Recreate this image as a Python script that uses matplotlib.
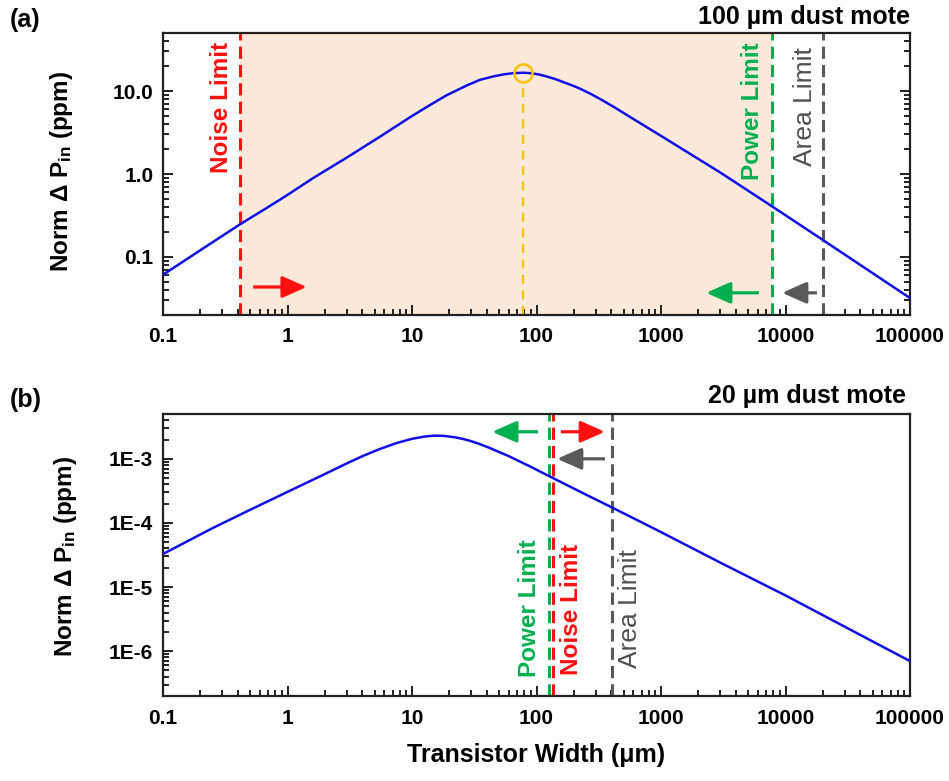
import matplotlib
matplotlib.use("Agg")
import matplotlib.pyplot as plt
from matplotlib.ticker import LogLocator, FixedLocator, FixedFormatter, NullFormatter

plt.rcParams['font.family'] = ['Liberation Sans', 'DejaVu Sans']
plt.rcParams['font.weight'] = 'bold'
plt.rcParams['mathtext.fontset'] = 'custom'
plt.rcParams['mathtext.rm'] = 'Liberation Sans:bold'
plt.rcParams['mathtext.default'] = 'rm'

# ---------------- data ----------------
# panel (a): 100 um dust mote
width_a = [0.1, 0.2, 0.42, 0.7, 1, 1.6, 3, 5.5, 10, 14, 19, 28, 35, 45, 55, 65, 78,
           90, 105, 120, 140, 160, 190, 220, 270, 330, 420, 560, 750, 1000, 1420,
           3000, 7750, 20000, 50000, 100000]
dp_a = [0.061, 0.121, 0.25, 0.40, 0.56, 0.89, 1.58, 2.8, 5.0, 6.8, 8.9, 11.8, 13.6,
        15.0, 15.9, 16.4, 16.6, 16.4, 15.8, 15.0, 14.0, 13.0, 11.8, 10.8, 9.3, 7.9,
        6.4, 4.9, 3.75, 2.88, 2.08, 1.04, 0.41, 0.16, 0.064, 0.032]
noise_a, power_a, area_a = 0.415, 7750, 20100
opt_a = (78, 16.6)

# panel (b): 20 um dust mote
width_b = [0.1, 0.25, 0.5, 1, 2, 3, 4, 5.5, 7.5, 10, 12.5, 15, 18, 22, 26, 30, 35,
           42, 48, 60, 70, 90, 128, 250, 400, 1000, 3000, 10000, 30000, 100000]
dp_b = [3.28e-5, 8.3e-5, 1.6e-4, 3.05e-4, 5.8e-4, 8.5e-4, 1.10e-3, 1.42e-3, 1.76e-3,
        2.05e-3, 2.22e-3, 2.30e-3, 2.28e-3, 2.17e-3, 2.03e-3, 1.88e-3, 1.70e-3,
        1.48e-3, 1.32e-3, 1.10e-3, 9.5e-4, 7.5e-4, 5.3e-4, 2.76e-4, 1.76e-4, 7.2e-5,
        2.4e-5, 7.4e-6, 2.4e-6, 7.0e-7]
power_b, noise_b, area_b = 126, 135, 402

xticks = [0.1, 1, 10, 100, 1000, 10000, 100000]
xticklabels = ['0.1', '1', '10', '100', '1000', '10000', '100000']
yticks_a = [0.1, 1.0, 10.0]
yticklabels_a = ['0.1', '1.0', '10.0']
yticks_b = [1e-6, 1e-5, 1e-4, 1e-3]
yticklabels_b = ['1E-6', '1E-5', '1E-4', '1E-3']

# arrows: (x_start, x_end, y, colour)
arrows_a = [(0.53, 1.43, 0.0435, 'red'), (6120, 2300, 0.037, 'green'), (17900, 9370, 0.037, 'gray')]
arrows_b = [(103, 44, 2.64e-3, 'green'), (157, 355, 2.64e-3, 'red'), (355, 146, 1.0e-3, 'gray')]

RED = '#FF1010'
GREEN = '#00B050'
GRAY = '#595959'
BLUE = '#1010E6'
ORANGE = '#FFC000'
PEACH = '#FCE9DA'
colmap = {'red': RED, 'green': GREEN, 'gray': GRAY}

fig = plt.figure(figsize=(9.49, 7.81), dpi=100)
ax1 = fig.add_axes([163/949, 1-315/781, 747/949, 282/781])
ax2 = fig.add_axes([163/949, 1-696/781, 747/949, 282/781])

dash = (0, (4, 2))

def style(ax, yt, ytl, right):
    ax.set_xscale('log')
    ax.set_yscale('log')
    ax.set_xlim(0.1, 100000)
    for s in ax.spines.values():
        s.set_linewidth(1.6)
        s.set_color('#202020')
    ax.xaxis.set_major_locator(FixedLocator(xticks))
    ax.xaxis.set_major_formatter(FixedFormatter(xticklabels))
    ax.xaxis.set_minor_locator(LogLocator(base=10, subs=range(2, 10), numticks=20))
    ax.xaxis.set_minor_formatter(NullFormatter())
    ax.yaxis.set_major_locator(FixedLocator(yt))
    ax.yaxis.set_major_formatter(FixedFormatter(ytl))
    ax.yaxis.set_minor_locator(LogLocator(base=10, subs=range(2, 10), numticks=20))
    ax.yaxis.set_minor_formatter(NullFormatter())
    ax.tick_params(which='both', direction='in', top=False, right=right, width=1.4, colors='#202020')
    ax.tick_params(which='major', length=7, labelsize=15, pad=7)
    ax.tick_params(which='minor', length=4)
    ax.tick_params(axis='x', which='major', pad=9)
    for lab in ax.get_xticklabels() + ax.get_yticklabels():
        lab.set_fontweight('bold')
        lab.set_color('black')

def arrow(ax, x0, x1, y, c):
    ax.annotate('', xy=(x1, y), xytext=(x0, y), xycoords='data',
                arrowprops=dict(arrowstyle='-|>,head_length=0.5,head_width=0.22',
                                color=colmap[c], lw=2.3, capstyle='butt',
                                mutation_scale=30, shrinkA=0, shrinkB=0))

def vlabel(ax, x, text, color, dx, yfrac, va, weight='bold', size=17.5):
    ax.annotate(text, xy=(x, yfrac), xycoords=('data', 'axes fraction'),
                xytext=(dx, 0), textcoords='offset pixels', rotation=90,
                ha='center', va=va, color=color, fontsize=size, fontweight=weight)

# ---------- panel (a) ----------
style(ax1, yticks_a, yticklabels_a, True)
ax1.set_ylim(0.02, 50)
ax1.axvspan(noise_a, power_a, color=PEACH, zorder=0, lw=0)
ax1.plot(width_a, dp_a, color=BLUE, lw=1.8, zorder=3)
ax1.axvline(noise_a, color=RED, lw=2.2, ls=dash, zorder=2)
ax1.axvline(power_a, color=GREEN, lw=2.2, ls=dash, zorder=2)
ax1.axvline(area_a, color=GRAY, lw=2.2, ls=dash, zorder=2)
ax1.vlines(opt_a[0], 0.02, 12.9, color=ORANGE, lw=1.6, ls=(0, (4, 3)), zorder=2)
ax1.plot([opt_a[0]], [opt_a[1]], 'o', ms=13, mfc='none', mec=ORANGE, mew=1.8, zorder=4)
for x0, x1, y, c in arrows_a:
    arrow(ax1, x0, x1, y, c)
vlabel(ax1, noise_a, 'Noise Limit', RED, -18, 0.968, 'top')
vlabel(ax1, power_a, 'Power Limit', GREEN, -19, 0.968, 'top')
vlabel(ax1, area_a, 'Area Limit', '#505050', -18, 0.95, 'top', weight='normal', size=19)
ax1.set_ylabel('Norm Δ P$_{in}$ (ppm)', fontsize=17.5, fontweight='bold')
ax1.yaxis.set_label_coords(-0.118, 0.51)

# ---------- panel (b) ----------
style(ax2, yticks_b, yticklabels_b, False)
ax2.set_ylim(2e-7, 5e-3)
ax2.plot(width_b, dp_b, color=BLUE, lw=1.8, zorder=3)
ax2.axvline(power_b, color=GREEN, lw=2.2, ls=dash, zorder=2)
ax2.axvline(noise_b, color=RED, lw=2.2, ls=dash, zorder=2)
ax2.axvline(area_b, color=GRAY, lw=2.2, ls=dash, zorder=2)
for x0, x1, y, c in arrows_b:
    arrow(ax2, x0, x1, y, c)
vlabel(ax2, power_b, 'Power Limit', GREEN, -19, 0.067, 'bottom')
vlabel(ax2, noise_b, 'Noise Limit', RED, 19, 0.074, 'bottom')
vlabel(ax2, area_b, 'Area Limit', '#505050', 18, 0.10, 'bottom', weight='normal', size=19)
ax2.set_ylabel('Norm Δ P$_{in}$ (ppm)', fontsize=17.5, fontweight='bold')
ax2.yaxis.set_label_coords(-0.113, 0.495)
ax2.set_xlabel('Transistor Width (μm)', fontsize=18, fontweight='bold')
ax2.xaxis.set_label_coords(0.5, -0.165)

# panel titles
fig.text(10/949, 1-20/781, '(a)', fontsize=18, fontweight='bold', ha='left', va='center')
fig.text(910/949, 1-17/781, '100 µm dust mote', fontsize=18, fontweight='bold', ha='right', va='center')
fig.text(10/949, 1-400/781, '(b)', fontsize=18, fontweight='bold', ha='left', va='center')
fig.text(906/949, 1-396/781, '20 µm dust mote', fontsize=18, fontweight='bold', ha='right', va='center')

fig.savefig('out.png', dpi=100, facecolor='white')
